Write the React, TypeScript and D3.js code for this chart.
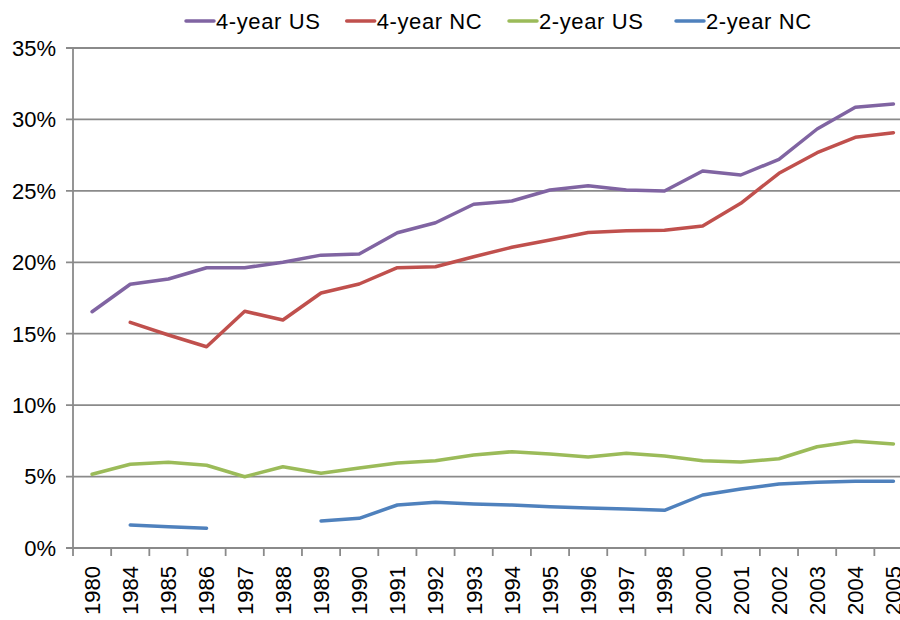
import React from "react";
import * as d3 from "d3";

const categories = ["1980","1984","1985","1986","1987","1988","1989","1990","1991","1992","1993","1994","1995","1996","1997","1998","2000","2001","2002","2003","2004","2005"];

const fourYearUS = [16.54,18.46,18.83,19.62,19.62,20.0,20.5,20.58,22.07,22.77,24.06,24.29,25.06,25.35,25.06,24.99,26.39,26.11,27.21,29.33,30.85,31.08];
const fourYearNC = [null,15.8,14.91,14.09,16.57,15.96,17.85,18.48,19.62,19.69,20.39,21.05,21.56,22.08,22.21,22.24,22.54,24.13,26.23,27.67,28.75,29.07];
const twoYearUS = [5.16,5.86,6.0,5.79,4.99,5.69,5.23,5.6,5.95,6.11,6.51,6.74,6.58,6.37,6.63,6.44,6.11,6.02,6.25,7.09,7.47,7.28];
const twoYearNC = [null,1.61,1.49,1.38,null,null,1.89,2.08,3.01,3.2,3.08,3.01,2.89,2.8,2.73,2.64,3.71,4.13,4.48,4.6,4.67,4.67];

const yTicks = [0,5,10,15,20,25,30,35];

const seriesNames = ["4-year US","4-year NC","2-year US","2-year NC"];
const seriesValues = [fourYearUS, fourYearNC, twoYearUS, twoYearNC];
const seriesColors = ["#8064A2","#C0504D","#9BBB59","#4F81BD"];

const W = 900, H = 620;
const left = 73, top = 48, bottom = 548;
const step = 38.16;
const FONT = "'Liberation Sans', Arial, Helvetica, sans-serif";

export default function App() {
  const x = d3.scaleBand<string>().domain(categories).range([left, left + categories.length * step]).paddingInner(0).paddingOuter(0);
  const y = d3.scaleLinear().domain([0, 35]).range([bottom, top]);
  const cx = (c: string) => (x(c) as number) + x.bandwidth() / 2;

  const line = d3.line<number | null>()
    .defined((d) => d !== null)
    .x((_, i) => cx(categories[i]))
    .y((d) => y(d as number));

  const legendLine = [186, 346.7, 509, 676];

  return (
    <svg width={W} height={H} style={{ position: "absolute", left: 0, top: 0, overflow: "hidden", background: "#fff" }} fontFamily={FONT}>
      {yTicks.map((t) => (
        <g key={t}>
          <line x1={left - 7} x2={W} y1={y(t)} y2={y(t)} stroke="#8a8a8a" strokeWidth={1.8} />
          <text x={56} y={y(t)} dy="0.36em" textAnchor="end" fontSize={22} fill="#000">{t}%</text>
        </g>
      ))}
      <line x1={left} x2={left} y1={top} y2={bottom + 8} stroke="#8a8a8a" strokeWidth={1.8} />
      {categories.map((c, i) => (
        <g key={c}>
          {i > 0 && <line x1={x(c) as number} x2={x(c) as number} y1={bottom} y2={bottom + 8} stroke="#8a8a8a" strokeWidth={1.8} />}
          <text transform={`translate(${cx(c)},566) rotate(-90)`} textAnchor="end" dy="0.36em" fontSize={22} fill="#000">{c}</text>
        </g>
      ))}
      {seriesValues.map((vals, k) => (
        <path key={k} d={line(vals) || ""} fill="none" stroke={seriesColors[k]} strokeWidth={3.5} strokeLinejoin="round" strokeLinecap="round" />
      ))}
      {seriesNames.map((n, k) => (
        <g key={n}>
          <line x1={legendLine[k]} x2={legendLine[k] + 28} y1={21} y2={21} stroke={seriesColors[k]} strokeWidth={3.5} strokeLinecap="round" />
          <text x={legendLine[k] + 30} y={21} dy="0.36em" fontSize={22} letterSpacing={0.6} fill="#000">{n}</text>
        </g>
      ))}
    </svg>
  );
}
